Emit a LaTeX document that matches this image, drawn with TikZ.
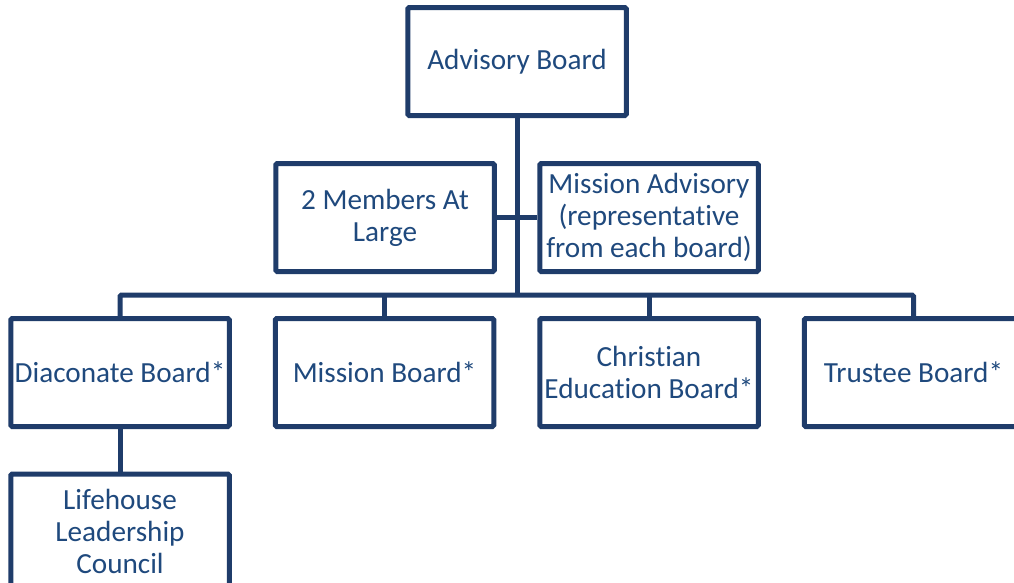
\documentclass[tikz,border=0pt]{standalone}
\usepackage{fontspec}
\setmainfont{Carlito}[Ligatures=NoCommon]
\definecolor{boardline}{HTML}{1F3C6A}
\definecolor{boardtext}{HTML}{1F497D}

\begin{document}
\begin{tikzpicture}
  [ x=1pt, y=-1pt
  , board/.style={rectangle, draw=boardline, line width=5pt, rounded corners=1.5pt, minimum width=218.5pt, minimum height=108pt, inner sep=2pt, align=center, text=boardtext, font=\fontsize{29.2}{32}\selectfont}
  , link/.style={draw=boardline, line width=5pt, rounded corners=1.5pt}]
  \useasboundingbox (0,0) rectangle (1014,582);
  \clip (0,0) rectangle (1014,582);
  \node (0) at (517, 61.5) [board] {Advisory Board};
  \node (1) at (385, 217.5) [board] {2 Members At\\Large};
  \node (2) at (649, 217.5) [board] {Mission Advisory\\(representative\\from each board)};
  \node (3) at (120, 372.5) [board] {Diaconate Board*};
  \node (4) at (384.5, 372.5) [board] {Mission Board*};
  \node (5) at (649, 372.5) [board] {Christian\\Education Board*};
  \node (6) at (913.5, 372.5) [board] {Trustee Board*};
  \node (7) at (120, 531) [board, minimum height=114pt] {Lifehouse\\Leadership\\Council};
  \coordinate (bus) at (517, 295);
  \draw [link] (0) -- (bus);
  \draw [link] (1) -- (2);
  \draw [link] (3.north) |- (bus) -| (6.north);
  \draw [link] (4.north) -- (4.north |- bus);
  \draw [link] (5.north) -- (5.north |- bus);
  \draw [link] (3) -- (7);
\end{tikzpicture}
\end{document}
